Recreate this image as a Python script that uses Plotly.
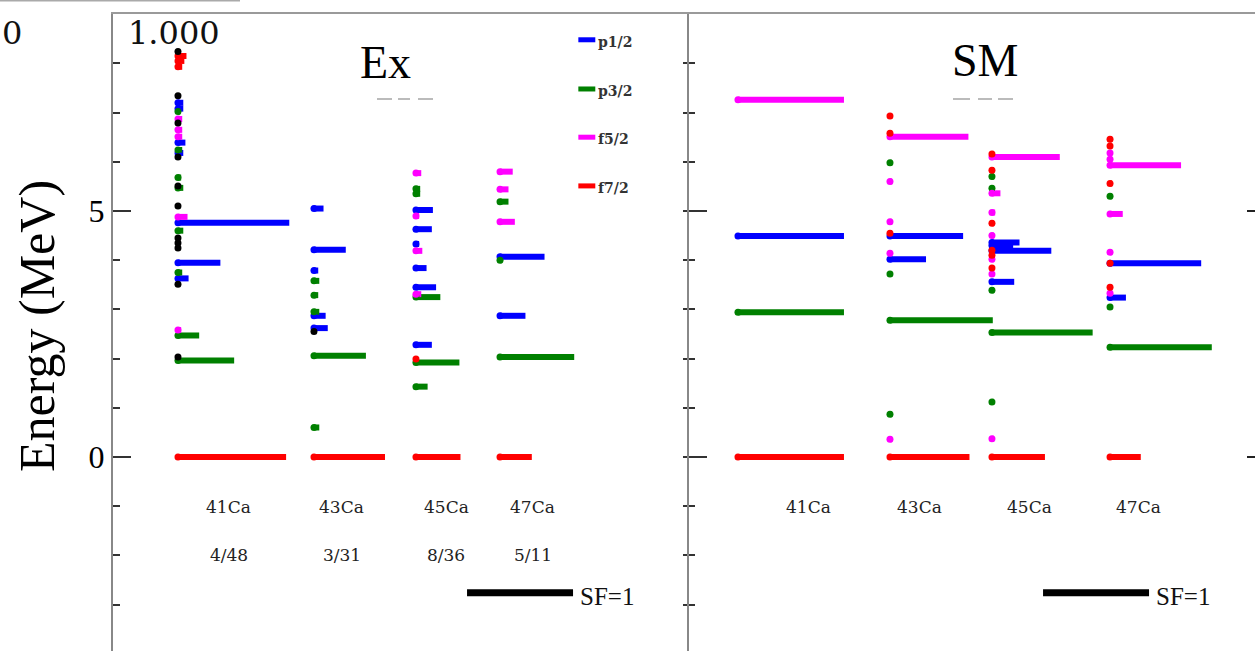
import plotly.graph_objects as go

# ---------------- data ----------------
nuclei = ["41Ca", "43Ca", "45Ca", "47Ca"]
fractions = ["4/48", "3/31", "8/36", "5/11"]
orbitals = ["p1/2", "p3/2", "f5/2", "f7/2"]

# Ex panel: excitation energy (MeV), spectroscopic factor, orbital ("?" = unassigned)
ex41_energy = [8.24, 8.15, 8.05, 7.93, 7.34, 7.20, 7.08, 7.02, 6.87, 6.79, 6.65, 6.51, 6.39, 6.24, 6.18, 6.10,
               5.68, 5.51, 5.47, 5.10, 4.88, 4.76, 4.60, 4.45, 4.35, 4.25, 3.95, 3.75, 3.63, 3.51, 2.58, 2.47,
               2.03, 1.96, 0.00]
ex41_sf = [0, 0.08, 0.06, 0.04, 0, 0.05, 0.05, 0.02, 0.04, 0, 0.04, 0.04, 0.07, 0.04, 0.05, 0,
           0.03, 0, 0.05, 0, 0.09, 1.05, 0.05, 0, 0, 0, 0.40, 0.04, 0.10, 0, 0.03, 0.20,
           0, 0.53, 1.02]
ex41_orb = ["?", "f7/2", "f7/2", "f7/2", "?", "p1/2", "p1/2", "p3/2", "f5/2", "?", "f5/2", "f5/2", "p1/2", "p3/2",
            "p1/2", "?", "p3/2", "?", "p3/2", "?", "f5/2", "p1/2", "p3/2", "?", "?", "?", "p1/2", "p3/2", "p1/2",
            "?", "f5/2", "p3/2", "?", "p3/2", "f7/2"]

ex43_energy = [5.05, 4.21, 3.79, 3.58, 3.29, 2.95, 2.87, 2.62, 2.55, 2.06, 0.60, 0.00]
ex43_sf = [0.09, 0.30, 0.04, 0.05, 0.04, 0.05, 0.11, 0.13, 0, 0.49, 0.05, 0.67]
ex43_orb = ["p1/2", "p1/2", "p1/2", "p3/2", "p3/2", "p3/2", "p1/2", "p1/2", "?", "p3/2", "p3/2", "f7/2"]

ex45_energy = [5.77, 5.45, 5.35, 5.02, 4.90, 4.63, 4.33, 4.19, 3.84, 3.45, 3.31, 3.25, 2.28, 1.99, 1.92, 1.43, 0.00]
ex45_sf = [0.05, 0.04, 0.04, 0.16, 0.03, 0.15, 0.03, 0.06, 0.10, 0.19, 0.05, 0.23, 0.15, 0.02, 0.41, 0.11, 0.42]
ex45_orb = ["f5/2", "p3/2", "p3/2", "p1/2", "f5/2", "p1/2", "p1/2", "f5/2", "p1/2", "p1/2", "f5/2", "p3/2",
            "p1/2", "f7/2", "p3/2", "p3/2", "f7/2"]

ex47_energy = [5.80, 5.44, 5.19, 4.78, 4.07, 4.00, 2.87, 2.03, 0.00]
ex47_sf = [0.12, 0.08, 0.08, 0.14, 0.42, 0.02, 0.24, 0.70, 0.30]
ex47_orb = ["f5/2", "f5/2", "p3/2", "f5/2", "p1/2", "p3/2", "p1/2", "p3/2", "f7/2"]

# SM panel
sm41_energy = [7.26, 4.49, 2.94, 0.00]
sm41_sf = [1.0, 1.0, 1.0, 1.0]
sm41_orb = ["f5/2", "p1/2", "p3/2", "f7/2"]

sm43_energy = [6.93, 6.58, 6.51, 5.98, 5.60, 4.78, 4.55, 4.49, 4.14, 4.02, 3.72, 2.78, 0.87, 0.36, 0.00]
sm43_sf = [0.02, 0.02, 0.74, 0.02, 0.02, 0.02, 0.02, 0.69, 0.02, 0.34, 0.02, 0.97, 0.02, 0.02, 0.75]
sm43_orb = ["f7/2", "f7/2", "f5/2", "p3/2", "f5/2", "f5/2", "f7/2", "p1/2", "f5/2", "p1/2", "p3/2", "p3/2",
            "p3/2", "f5/2", "f7/2"]

sm45_energy = [6.16, 6.10, 5.83, 5.70, 5.46, 5.36, 4.97, 4.75, 4.50, 4.36, 4.30, 4.20, 4.19, 4.10, 4.02, 3.84,
               3.72, 3.56, 3.39, 2.53, 1.12, 0.37, 0.00]
sm45_sf = [0.02, 0.64, 0.02, 0.02, 0.02, 0.08, 0.03, 0.02, 0.02, 0.26, 0.20, 0.02, 0.56, 0.02, 0.02, 0.02,
           0.02, 0.21, 0.02, 0.95, 0.02, 0.02, 0.50]
sm45_orb = ["f7/2", "f5/2", "f7/2", "p3/2", "p3/2", "f5/2", "f5/2", "f7/2", "f5/2", "p1/2", "p1/2", "f7/2",
            "p1/2", "f7/2", "f5/2", "f7/2", "f5/2", "p1/2", "p3/2", "p3/2", "p3/2", "f5/2", "f7/2"]

sm47_energy = [6.46, 6.32, 6.18, 6.05, 5.93, 5.56, 5.30, 4.94, 4.16, 3.94, 3.94, 3.45, 3.33, 3.24, 3.05, 2.23, 0.00]
sm47_sf = [0.02, 0.02, 0.02, 0.02, 0.67, 0.02, 0.02, 0.12, 0.02, 0.02, 0.86, 0.02, 0.02, 0.15, 0.02, 0.96, 0.29]
sm47_orb = ["f7/2", "f7/2", "f5/2", "f5/2", "f5/2", "f7/2", "p3/2", "f5/2", "f5/2", "f7/2", "p1/2", "f7/2",
            "f5/2", "p1/2", "p3/2", "p3/2", "f7/2"]

# ---------------- layout constants ----------------
W, H = 1255, 651
X_LEFT, X_MID = 113, 689
PX_PER_SF = 106.0
Y_ZERO, PX_PER_MEV = 457.0, 49.2
Y_TOP_PX = 14
y_max = (Y_ZERO - Y_TOP_PX) / PX_PER_MEV
y_min = (Y_ZERO - H) / PX_PER_MEV

colors = {"p1/2": "#0000ff", "p3/2": "#008000", "f5/2": "#ff00ff", "f7/2": "#ff0000", "?": "#000000"}
serif = "Liberation Serif"
mono_serif = "DejaVu Serif"

# start of each nucleus column (in SF units along each panel's x axis)
ex_start = [0.613, 1.896, 2.858, 3.651]
sm_start = [0.462, 1.896, 2.858, 3.972]
ex_label_x = [1.094, 2.160, 3.142, 3.962]
sm_label_x = [1.123, 2.179, 3.208, 4.236]

panels = [
    ("x", "y", ex_start,
     [(ex41_energy, ex41_sf, ex41_orb), (ex43_energy, ex43_sf, ex43_orb),
      (ex45_energy, ex45_sf, ex45_orb), (ex47_energy, ex47_sf, ex47_orb)]),
    ("x2", "y2", sm_start,
     [(sm41_energy, sm41_sf, sm41_orb), (sm43_energy, sm43_sf, sm43_orb),
      (sm45_energy, sm45_sf, sm45_orb), (sm47_energy, sm47_sf, sm47_orb)]),
]

fig = go.Figure()

draw_order = ["p1/2", "p3/2", "f5/2", "f7/2", "?"]
for xa, ya, starts, data in panels:
    # bars
    for orb in draw_order:
        lx, ly = [], []
        for start, (en, sf, ob) in zip(starts, data):
            for e, s, o in zip(en, sf, ob):
                if o == orb and s > 0:
                    lx += [start, start + s, None]
                    ly += [e, e, None]
        if lx:
            fig.add_trace(go.Scatter(x=lx, y=ly, xaxis=xa, yaxis=ya, mode="lines",
                                     line=dict(color=colors[orb], width=6), hoverinfo="skip",
                                     showlegend=False))
    # dots at level start
    for orb in draw_order:
        mx, my = [], []
        for start, (en, sf, ob) in zip(starts, data):
            for e, s, o in zip(en, sf, ob):
                if o == orb:
                    mx.append(start)
                    my.append(e)
        if mx:
            fig.add_trace(go.Scatter(x=mx, y=my, xaxis=xa, yaxis=ya, mode="markers",
                                     marker=dict(color=colors[orb], size=7, line=dict(width=0)),
                                     showlegend=False))
    # SF = 1 key bar
    fig.add_trace(go.Scatter(x=[3.34, 3.34 + 1.0], y=[-2.76, -2.76], xaxis=xa, yaxis=ya, mode="lines",
                             line=dict(color="black", width=7), showlegend=False, hoverinfo="skip"))

annotations = []
for xa, ya, lbl_x in [("x", "y", ex_label_x), ("x2", "y2", sm_label_x)]:
    for name, lx in zip(nuclei, lbl_x):
        annotations.append(dict(x=lx, y=-1.02, xref=xa, yref=ya, text=name, showarrow=False,
                                xanchor="center", yanchor="middle",
                                font=dict(family=mono_serif, size=17, color="#222")))
    annotations.append(dict(x=4.39, y=-2.84, xref=xa, yref=ya, text="SF=1", showarrow=False, xanchor="left",
                            yanchor="middle", font=dict(family=serif, size=25, color="#111")))
for frac, lx in zip(fractions, ex_label_x):
    annotations.append(dict(x=lx, y=-1.99, xref="x", yref="y", text=frac, showarrow=False,
                            xanchor="center", yanchor="middle",
                            font=dict(family=mono_serif, size=17, color="#222")))

# manual legend
legend_y = [8.48, 7.48, 6.50, 5.51]
shapes = []
for orb, ly in zip(orbitals, legend_y):
    shapes.append(dict(type="line", xref="x", yref="y", x0=4.39, x1=4.55, y0=ly, y1=ly,
                       line=dict(color=colors[orb], width=5)))
    annotations.append(dict(x=4.56, y=ly - 0.04, xref="x", yref="y", text="<b>" + orb + "</b>",
                            showarrow=False, xanchor="left", yanchor="middle",
                            font=dict(family=mono_serif, size=14, color="#333")))

def py(px):
    return 1 - px / H

annotations += [
    dict(x=385 / W, y=py(62), xref="paper", yref="paper", text="Ex", showarrow=False,
         xanchor="center", yanchor="middle", font=dict(family=serif, size=46, color="black")),
    dict(x=985 / W, y=py(60), xref="paper", yref="paper", text="SM", showarrow=False,
         xanchor="center", yanchor="middle", font=dict(family=serif, size=46, color="black")),
    dict(x=37 / W, y=py(326), xref="paper", yref="paper", text="Energy (MeV)", showarrow=False,
         textangle=-90, xanchor="center", yanchor="middle", font=dict(family=serif, size=50, color="black")),
    dict(x=126 / W, y=py(33), xref="paper", yref="paper", text="1.000", showarrow=False, xanchor="left",
         yanchor="middle", font=dict(family=mono_serif, size=32, color="#111")),
    dict(x=0, y=py(33), xref="paper", yref="paper", text="0", showarrow=False, xanchor="left",
         yanchor="middle", font=dict(family=mono_serif, size=32, color="#111")),
]

# decorative edge pieces (scan remnants)
shapes += [
    dict(type="line", xref="paper", yref="paper", x0=0, x1=240 / W, y0=py(0.5), y1=py(0.5),
         line=dict(color="#aaa", width=2)),
    dict(type="line", xref="paper", yref="y2", x0=1247 / W, x1=1, y0=5, y1=5, line=dict(color="#222", width=2)),
    dict(type="line", xref="paper", yref="y2", x0=1247 / W, x1=1, y0=0, y1=0, line=dict(color="#222", width=2)),
]
for a, b in [(377, 392), (398, 410), (418, 433), (953, 970), (978, 992), (998, 1013)]:
    shapes.append(dict(type="line", xref="paper", yref="paper", x0=a / W, x1=b / W, y0=py(99), y1=py(99),
                       line=dict(color="#bbb", width=2)))

y_dom = [0, py(Y_TOP_PX)]
common_x = dict(showgrid=False, zeroline=False, showticklabels=False, ticks="", side="top",
                showline=True, linecolor="#9a9a9a", linewidth=2, fixedrange=True)

fig.update_layout(
    width=W, height=H, margin=dict(l=0, r=0, t=0, b=0),
    paper_bgcolor="white", plot_bgcolor="white", showlegend=False,
    xaxis=dict(domain=[X_LEFT / W, X_MID / W], range=[0, (X_MID - X_LEFT) / PX_PER_SF], anchor="y", **common_x),
    xaxis2=dict(domain=[X_MID / W, 1], range=[0, (W - X_MID) / PX_PER_SF], anchor="y2", **common_x),
    yaxis=dict(domain=y_dom, range=[y_min, y_max], anchor="x", showgrid=False, zeroline=False,
               showline=True, linecolor="#888", linewidth=2, ticks="inside", ticklen=18, tickwidth=1.5,
               tickcolor="#333", tick0=0, dtick=5,
               minor=dict(dtick=1, tick0=0, ticks="inside", ticklen=7, tickcolor="#333", tickwidth=1.5),
               tickfont=dict(family=serif, size=32, color="black")),
    yaxis2=dict(domain=y_dom, range=[y_min, y_max], anchor="x2", showgrid=False, zeroline=False,
                showline=True, linecolor="#888", linewidth=2, ticks="inside", ticklen=18, tickwidth=1.5,
                tickcolor="#333", tick0=0, dtick=5, showticklabels=False,
                minor=dict(dtick=1, tick0=0, ticks="inside", ticklen=6, tickcolor="#333", tickwidth=1.5)),
    yaxis3=dict(overlaying="y", anchor="x", side="right", range=[y_min, y_max], showgrid=False,
                zeroline=False, showline=False, ticks="inside", ticklen=6, tickwidth=1.5, tickcolor="#333",
                tick0=0, dtick=5, showticklabels=False,
                minor=dict(dtick=1, tick0=0, ticks="inside", ticklen=6, tickcolor="#333", tickwidth=1.5)),
    annotations=annotations, shapes=shapes,
)

# invisible trace so yaxis3 is drawn
fig.add_trace(go.Scatter(x=[0], y=[0], xaxis="x", yaxis="y3", mode="markers",
                         marker=dict(opacity=0), showlegend=False, hoverinfo="skip"))

fig.write_html("out.html")
